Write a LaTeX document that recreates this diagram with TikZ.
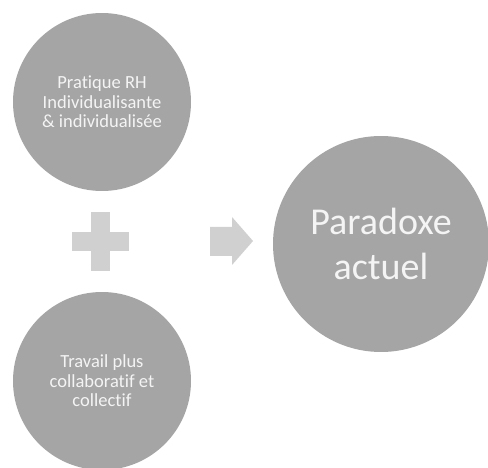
\documentclass[tikz,border=0pt]{standalone}
\usepackage{fontspec}
\setmainfont[Ligatures=NoCommon]{Carlito}
\definecolor{bubblegray}{HTML}{A5A5A5}
\definecolor{signgray}{HTML}{D0D0D0}
\definecolor{bubbletext}{HTML}{F4F4F4}
\begin{document}
\begin{tikzpicture}[x=1pt,y=-1pt,
  bubble/.style={circle, fill=bubblegray, inner sep=0pt, align=center, text=bubbletext},
  smallbubble/.style={bubble, minimum size=178pt, font=\fontsize{18.5}{19.5}\selectfont},
  bigbubble/.style={bubble, minimum size=216pt, font=\fontsize{38}{45}\selectfont},
  sign/.style={fill=signgray, draw=none}]
\useasboundingbox (0,0) rectangle (488,468);
% input bubbles
\node[smallbubble] (rh) at (102,102) {Pratique RH\\Individualisante\\\& individualisée};
\node[smallbubble] (travail) at (102,381) {Travail plus\\collaboratif et\\collectif};
% result bubble
\node[bigbubble] (paradoxe) at (381,244) {Paradoxe\\actuel};
% plus sign between the inputs
\fill[sign] (72,232) rectangle (129,251);
\fill[sign] (91,212) rectangle (110,271);
% arrow towards the result
\fill[sign] (210,227) -- (232,227) -- (232,217) -- (253,241) -- (232,265)
  -- (232,256) -- (210,256) -- cycle;
\end{tikzpicture}
\end{document}
